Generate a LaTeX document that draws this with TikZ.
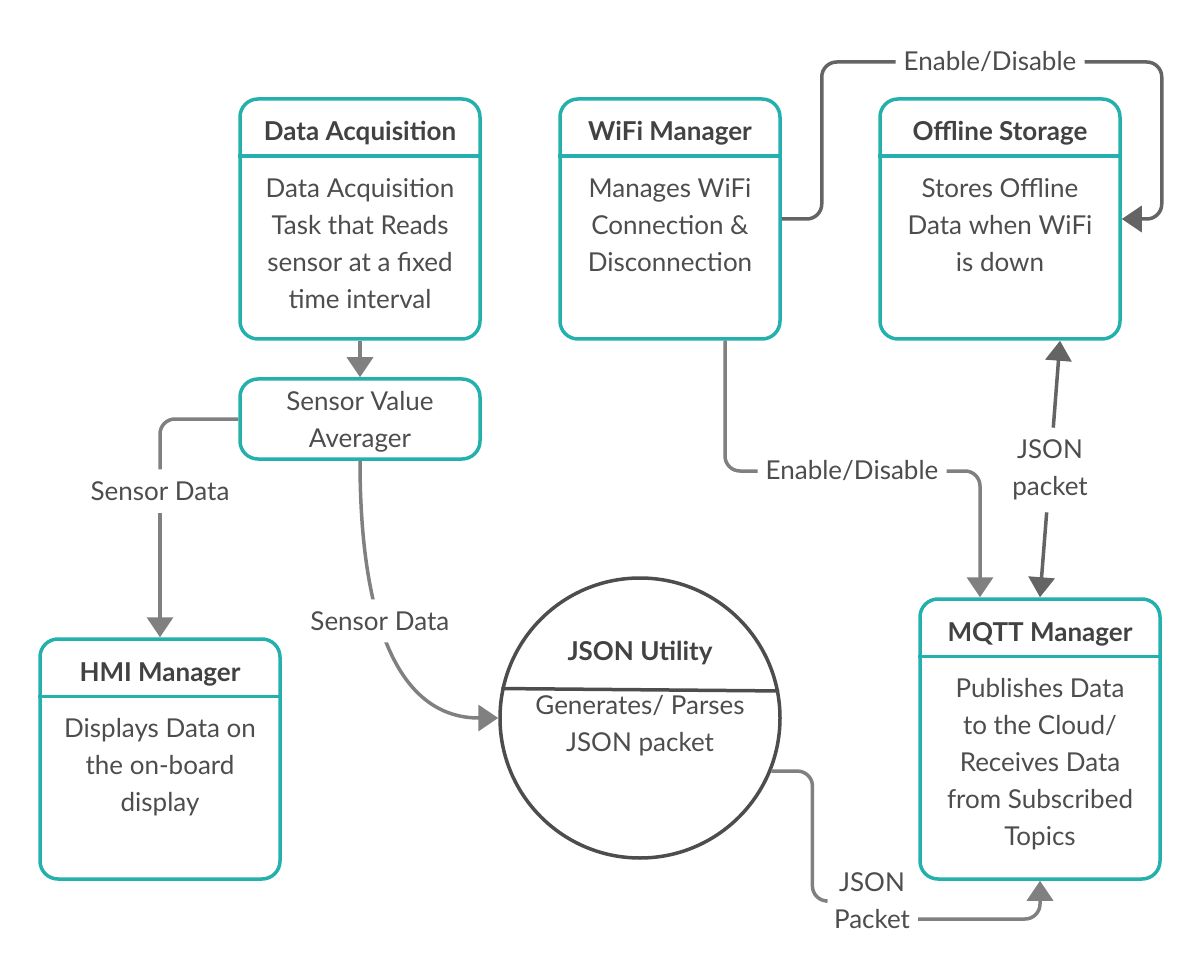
\documentclass[tikz,border=0pt]{standalone}
\usepackage{fontspec}
\setmainfont{Lato}
\usetikzlibrary{arrows.meta,positioning}

\definecolor{boxteal}{RGB}{36,176,172}
\definecolor{inkgray}{RGB}{77,77,77}
\definecolor{wiregray}{RGB}{128,128,128}
\definecolor{darkwire}{RGB}{100,100,100}

\begin{document}
\begin{tikzpicture}[x=1pt,y=-1pt,>={Triangle[length=20pt,width=26pt]},
    frame/.style={draw=boxteal,line width=3.5pt,rounded corners=18pt,inner sep=0pt,minimum width=240pt},
    head/.style={font=\fontsize{26}{37}\selectfont\bfseries,text=inkgray!85!black,anchor=base},
    body/.style={font=\fontsize{26}{37}\selectfont,text=inkgray,align=center,anchor=north,inner sep=0pt},
    tag/.style={font=\fontsize{26}{37}\selectfont,text=inkgray,align=center,fill=white,inner xsep=8pt,inner ysep=12pt},
    wire/.style={draw=wiregray,line width=3.5pt,rounded corners=15pt},
    dwire/.style={draw=darkwire,line width=3.5pt,rounded corners=15pt}]
  \useasboundingbox (0,0) rectangle (1200,976);

  % task boxes
  \node[frame,minimum height=240pt] (daq) at (360,219) {};
  \node[head] (daq-t) at (360,141) {Data Acquisition};
  \draw[boxteal,line width=3.5pt] ([yshift=-59pt]daq.north west) -- ([yshift=-59pt]daq.north east);
  \node[body] (daq-b) at (360,178) {Data Acquisition\\Task that Reads\\sensor at a fixed\\time interval};

  \node[frame,minimum width=220pt,minimum height=240pt] (wifi) at (670,219) {};
  \node[head] (wifi-t) at (670,141) {WiFi Manager};
  \draw[boxteal,line width=3.5pt] ([yshift=-59pt]wifi.north west) -- ([yshift=-59pt]wifi.north east);
  \node[body] (wifi-b) at (670,178) {Manages WiFi\\Connection \&\\Disconnection};

  \node[frame,minimum height=240pt] (offline) at (1000,219) {};
  \node[head] (offline-t) at (1000,141) {Offline Storage};
  \draw[boxteal,line width=3.5pt] ([yshift=-59pt]offline.north west) -- ([yshift=-59pt]offline.north east);
  \node[body] (offline-b) at (1000,178) {Stores Offline\\Data when WiFi\\is down};

  \node[frame,minimum height=80pt] (sva) at (360,419) {};
  \node[body] (sva-b) at (360,391) {Sensor Value\\Averager};

  \node[frame,minimum height=240pt] (hmi) at (160,759) {};
  \node[head] (hmi-t) at (160,681) {HMI Manager};
  \draw[boxteal,line width=3.5pt] ([yshift=-59pt]hmi.north west) -- ([yshift=-59pt]hmi.north east);
  \node[body] (hmi-b) at (160,718) {Displays Data on\\the on-board\\display};

  \node[frame,minimum height=280pt] (mqtt) at (1040,739) {};
  \node[head] (mqtt-t) at (1040,641) {MQTT Manager};
  \draw[boxteal,line width=3.5pt] ([yshift=-59pt]mqtt.north west) -- ([yshift=-59pt]mqtt.north east);
  \node[body] (mqtt-b) at (1040,678) {Publishes Data\\to the Cloud/\\Receives Data\\from Subscribed\\Topics};

  % JSON utility
  \node[circle,draw=inkgray,line width=3.5pt,minimum size=280pt,inner sep=0pt] (jsonu) at (640,718) {};
  \draw[inkgray,line width=3.5pt] (jsonu.168.9) -- (jsonu.11.1);
  \node[head] (jsonu-t) at (640,660) {JSON Utility};
  \node[body] (jsonu-b) at (640,695) {Generates/ Parses\\JSON packet};

  % connector labels
  \node[tag] (sd1) at (160,491) {Sensor Data};
  \node[tag] (ed1) at (990,62) {Enable/Disable};
  \node[tag] (ed2) at (852,471) {Enable/Disable};
  \node[tag] (jp1) at (1050,470) {JSON\\packet};
  \node[tag] (jp2) at (872,901) {JSON\\Packet};

  % connectors
  \draw[wire,->] (daq) -- (sva);
  \draw[wire] (sva.west) -| (sd1);
  \draw[wire,->] (sd1) -- (hmi);
  \draw[wire,->] (sva.south) .. controls +(0,161) and +(-100,0) .. (jsonu.west)
    node[tag,pos=0.4] (sd2) {Sensor Data};
  \draw[dwire] (wifi.east) -- ++(40,0) |- (ed1);
  \draw[dwire,->] (ed1) -| ([xshift=40pt]offline.east) -- (offline.east);
  \draw[wire] ([xshift=55pt]wifi.south) |- (ed2);
  \draw[wire,->] (ed2) -| ([xshift=-60pt]mqtt.north);
  \draw[dwire,->] (jp1) -- (mqtt.north);
  \draw[dwire,->] (jp1) -- ([xshift=60pt]offline.south);
  \draw[wire] (jsonu.-22.5) -- ++(41,0) |- (jp2);
  \draw[wire,->] ([yshift=-18pt]jp2.east) -| (mqtt.south);
\end{tikzpicture}
\end{document}
